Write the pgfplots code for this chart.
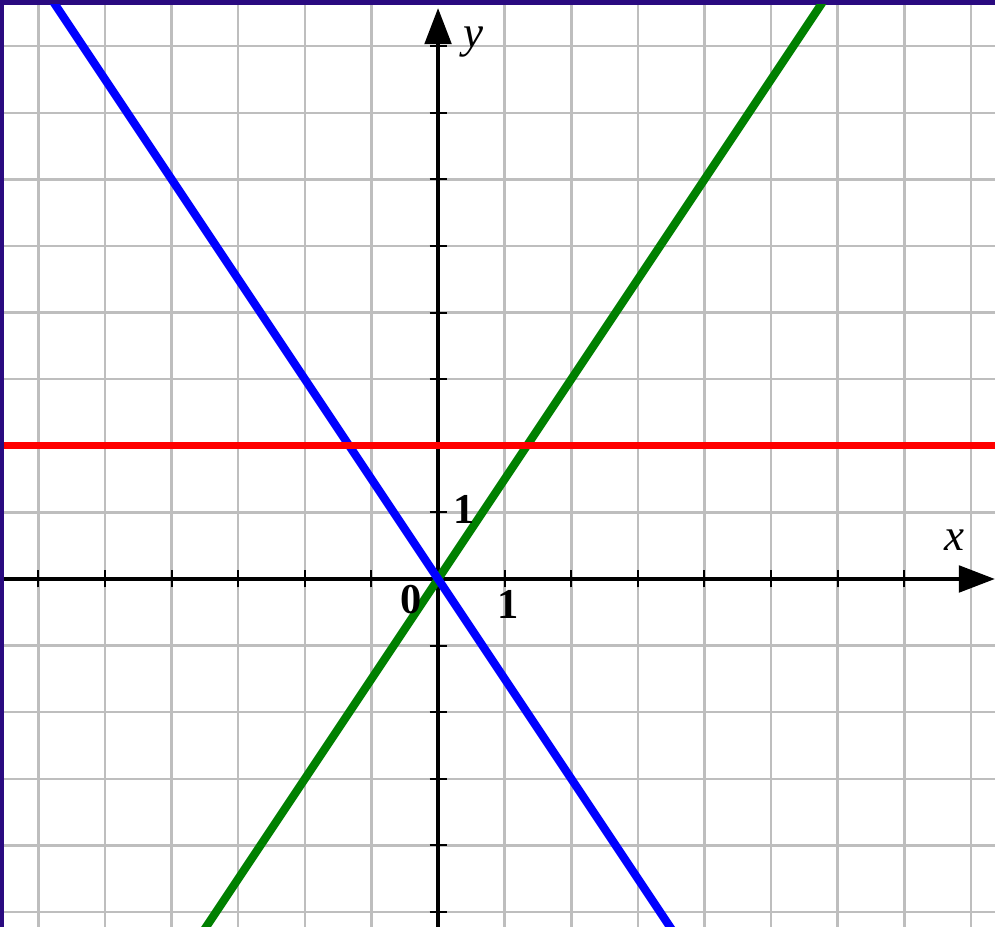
\documentclass[border=0pt]{standalone}
\usepackage{pgfplots}
\pgfplotsset{compat=1.18}
\usetikzlibrary{arrows.meta}
\usepackage{fontspec}
\setmainfont{Liberation Serif}

\definecolor{framecol}{HTML}{2A0A80}
\definecolor{gridgray}{HTML}{BEBEBE}
\definecolor{lgreen}{HTML}{008000}
\definecolor{lblue}{HTML}{0000FF}
\definecolor{lred}{HTML}{FF0000}

\begin{document}
\begin{tikzpicture}
  % page = 995x927 px at 0.4pt per px
  \path[use as bounding box] (0,0) rectangle (398pt,370.8pt);
  \clip (0,0) rectangle (398pt,370.8pt);
  \fill[framecol] (0,0) rectangle (398pt,370.8pt);
  \fill[white] (1.6pt,0) rectangle (398pt,368.8pt);
  \begin{axis}[
      at={(1.6pt,0pt)}, anchor=south west,
      scale only axis,
      width=396.4pt, height=368.8pt,
      xmin=-6.517, xmax=8.363,
      ymin=-5.225, ymax=8.619,
      axis lines=middle,
      axis line style={black, line width=1.9pt},
      x axis line style={-{Triangle[length=14.5pt,width=10.5pt]}},
      y axis line style={-{Triangle[length=14.5pt,width=10.5pt]}, shorten >=1.2pt},
      xtick={-6,...,8}, ytick={-5,...,8},
      xticklabels={}, yticklabels={},
      tick align=center,
      major tick length=6.8pt,
      tick style={black, line width=0.8pt},
      grid=major,
      grid style={gridgray, line width=1pt},
      clip=true,
    ]
    \addplot[lgreen, line width=3.3pt] coordinates {(-3.6,-5.4) (5.8,8.7)};
    \addplot[lblue, line width=3.3pt] coordinates {(-5.8,8.7) (3.6,-5.4)};
    \addplot[lred, line width=2.8pt] coordinates {(-7,2) (9,2)};

    \node[font=\fontsize{17}{17}\selectfont\bfseries] at (axis cs:-0.405,-0.315) {0};
    \node[font=\fontsize{17}{17}\selectfont\bfseries] at (axis cs:1.05,-0.39) {1};
    \node[font=\fontsize{17}{17}\selectfont\bfseries] at (axis cs:0.39,1.05) {1};
    \node[font=\fontsize{18}{18}\selectfont\itshape] at (axis cs:7.76,0.585) {x};
    \node[font=\fontsize{18}{18}\selectfont\itshape] at (axis cs:0.525,8.06) {y};
  \end{axis}
\end{tikzpicture}
\end{document}
